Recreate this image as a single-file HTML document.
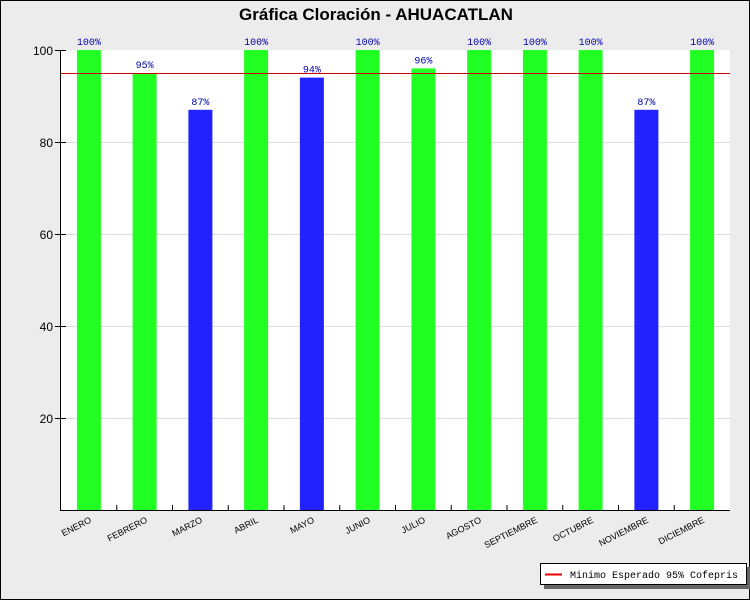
<!DOCTYPE html>
<html><head><meta charset="utf-8"><style>
body{margin:0;background:#fff}
svg{display:block}
</style></head><body>
<svg width="750" height="600" xmlns="http://www.w3.org/2000/svg" font-family="Liberation Sans, sans-serif">
<rect x="0.5" y="0.5" width="749" height="599" fill="#ececec" stroke="#000"/>
<text x="376" y="20" text-anchor="middle" font-size="17" font-weight="bold" fill="#000">Gráfica Cloración - AHUACATLAN</text>
<rect x="61" y="50" width="669" height="460" fill="#fff"/>
<g stroke="#ddd" stroke-width="1">
<line x1="61" y1="142.5" x2="730" y2="142.5"/>
<line x1="61" y1="234.5" x2="730" y2="234.5"/>
<line x1="61" y1="326.5" x2="730" y2="326.5"/>
<line x1="61" y1="418.5" x2="730" y2="418.5"/>
</g>
<g>
<rect x="76.9" y="50" width="24" height="460" fill="#22ff22"/>
<rect x="132.6" y="73" width="24" height="437" fill="#22ff22"/>
<rect x="188.4" y="109.8" width="24" height="400.2" fill="#2222ff"/>
<rect x="244.1" y="50" width="24" height="460" fill="#22ff22"/>
<rect x="299.9" y="77.6" width="24" height="432.4" fill="#2222ff"/>
<rect x="355.6" y="50" width="24" height="460" fill="#22ff22"/>
<rect x="411.4" y="68.4" width="24" height="441.6" fill="#22ff22"/>
<rect x="467.1" y="50" width="24" height="460" fill="#22ff22"/>
<rect x="522.9" y="50" width="24" height="460" fill="#22ff22"/>
<rect x="578.6" y="50" width="24" height="460" fill="#22ff22"/>
<rect x="634.4" y="109.8" width="24" height="400.2" fill="#2222ff"/>
<rect x="690.1" y="50" width="24" height="460" fill="#22ff22"/>
</g>
<g font-family="Liberation Mono, monospace" font-size="10" fill="#00a" text-anchor="middle">
<text x="88.9" y="45">100%</text>
<text x="144.6" y="68">95%</text>
<text x="200.4" y="104.8">87%</text>
<text x="256.1" y="45">100%</text>
<text x="311.9" y="72.6">94%</text>
<text x="367.6" y="45">100%</text>
<text x="423.4" y="63.4">96%</text>
<text x="479.1" y="45">100%</text>
<text x="534.9" y="45">100%</text>
<text x="590.6" y="45">100%</text>
<text x="646.4" y="104.8">87%</text>
<text x="702.1" y="45">100%</text>
</g>
<line x1="61" y1="73.5" x2="730" y2="73.5" stroke="#c00" stroke-width="1"/>
<g stroke="#000">
<line x1="60.5" y1="50" x2="60.5" y2="510.5"/>
<line x1="60" y1="510.5" x2="730" y2="510.5"/>
<line x1="55" y1="50.5" x2="66" y2="50.5"/>
<line x1="55" y1="142.5" x2="66" y2="142.5"/>
<line x1="55" y1="234.5" x2="66" y2="234.5"/>
<line x1="55" y1="326.5" x2="66" y2="326.5"/>
<line x1="55" y1="418.5" x2="66" y2="418.5"/>
<line x1="116.75" y1="505" x2="116.75" y2="510"/>
<line x1="172.5" y1="505" x2="172.5" y2="510"/>
<line x1="228.25" y1="505" x2="228.25" y2="510"/>
<line x1="284" y1="505" x2="284" y2="510"/>
<line x1="339.75" y1="505" x2="339.75" y2="510"/>
<line x1="395.5" y1="505" x2="395.5" y2="510"/>
<line x1="451.25" y1="505" x2="451.25" y2="510"/>
<line x1="507" y1="505" x2="507" y2="510"/>
<line x1="562.75" y1="505" x2="562.75" y2="510"/>
<line x1="618.5" y1="505" x2="618.5" y2="510"/>
<line x1="674.25" y1="505" x2="674.25" y2="510"/>
</g>
<g font-size="12" text-anchor="end" fill="#000">
<text x="53" y="55">100</text><text x="53" y="147">80</text><text x="53" y="239">60</text><text x="53" y="331">40</text><text x="53" y="423">20</text>
</g>
<g font-size="9" text-anchor="end" fill="#000">
<text transform="translate(92,522) rotate(-27)">ENERO</text>
<text transform="translate(148,522) rotate(-27)">FEBRERO</text>
<text transform="translate(203,522) rotate(-27)">MARZO</text>
<text transform="translate(259,522) rotate(-27)">ABRIL</text>
<text transform="translate(315,522) rotate(-27)">MAYO</text>
<text transform="translate(371,522) rotate(-27)">JUNIO</text>
<text transform="translate(426,522) rotate(-27)">JULIO</text>
<text transform="translate(482,522) rotate(-27)">AGOSTO</text>
<text transform="translate(538,522) rotate(-27)">SEPTIEMBRE</text>
<text transform="translate(594,522) rotate(-27)">OCTUBRE</text>
<text transform="translate(649,522) rotate(-27)">NOVIEMBRE</text>
<text transform="translate(705,522) rotate(-27)">DICIEMBRE</text>
</g>
<rect x="544" y="567" width="207" height="22" fill="#666"/>
<rect x="540.5" y="563.5" width="206" height="21" fill="#fff" stroke="#000"/>
<line x1="545" y1="574.5" x2="562" y2="574.5" stroke="#e00" stroke-width="2"/>
<text x="570" y="578" font-family="Liberation Mono, monospace" font-size="10" fill="#000">Minimo Esperado 95% Cofepris</text>
</svg>
</body></html>
